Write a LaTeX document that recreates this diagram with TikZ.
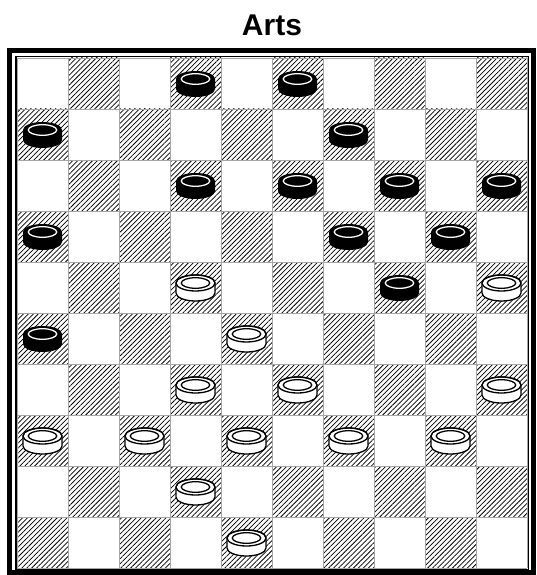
\documentclass[tikz,border=0pt]{standalone}
\usepackage{fontspec}
\setmainfont{Liberation Sans}
\usetikzlibrary{patterns.meta}
\tikzset{
  darksq/.style={pattern={Lines[angle=45,distance=3.5pt,line width=0.75pt]},pattern color=black},
  gridline/.style={draw=black!35,line width=0.9pt},
  pieceline/.style={line width=1.3pt},
  thickframe/.style={draw=black,line width=5pt},
  thinframe/.style={draw=black,line width=1.4pt},
}
\newcommand\drawchecker[3]{% col row colour(0 black,1 white)
  \pgfmathsetmacro\cx{42.5+51*#1}
  \pgfmathsetmacro\cy{83.5+51*#2}
  \pgfmathsetmacro\ta{\cy-4.5}
  \pgfmathsetmacro\tb{\cy+5.5}
  \pgfmathsetmacro\xl{\cx-19.5}
  \pgfmathsetmacro\xr{\cx+19.5}
  \ifnum#3=0
    \fill[black] (\xl,\ta) -- (\xl,\tb) arc[start angle=180,end angle=0,x radius=19.5,y radius=8] -- (\xr,\ta) arc[start angle=0,end angle=-180,x radius=19.5,y radius=8] -- cycle;
    \draw[pieceline,draw=white] (\cx,\ta) ellipse[x radius=14.2,y radius=5.3];
  \else
    \filldraw[pieceline,fill=white,draw=black,line join=round] (\xl,\ta) -- (\xl,\tb) arc[start angle=180,end angle=0,x radius=19.5,y radius=8] -- (\xr,\ta) arc[start angle=0,end angle=-180,x radius=19.5,y radius=8] -- cycle;
    \draw[pieceline] (\cx,\ta) ellipse[x radius=19.5,y radius=8];
    \draw[pieceline] (\cx,\ta) ellipse[x radius=14.2,y radius=5.3];
  \fi
}
\begin{document}
\begin{tikzpicture}[x=1pt,y=-1pt]
\useasboundingbox (0,0) rectangle (536,575);
\fill[white] (0,0) rectangle (536,575);
\node[anchor=base,font=\bfseries\fontsize{30}{36}\selectfont] (title) at (272,35.3) {Arts};
% squares
\foreach \r in {0,...,9}{
  \foreach \c in {0,...,9}{
    \pgfmathtruncatemacro\parity{mod(\r+\c,2)}
    \ifnum\parity=1
      \fill[darksq] ({17+51*\c},{58+51*\r}) rectangle ++(51,51);
    \fi
  }
}
\foreach \i in {0,...,10}{
  \draw[gridline] ({17+51*\i},58) -- ({17+51*\i},568);
  \draw[gridline] (17,{58+51*\i}) -- (527,{58+51*\i});
}
% frames
\draw[thinframe] (15.8,56.8) rectangle (528.7,569.3);
\draw[thickframe] (9.5,50.2) rectangle (533.5,572.5);
% black pieces
\foreach \c/\r in {3/0,5/0,0/1,6/1,3/2,5/2,7/2,9/2,0/3,6/3,8/3,7/4,0/5}{
  \drawchecker{\c}{\r}{0}
}
% white pieces
\foreach \c/\r in {3/4,9/4,4/5,3/6,5/6,9/6,0/7,2/7,4/7,6/7,8/7,3/8,4/9}{
  \drawchecker{\c}{\r}{1}
}
\end{tikzpicture}
\end{document}
